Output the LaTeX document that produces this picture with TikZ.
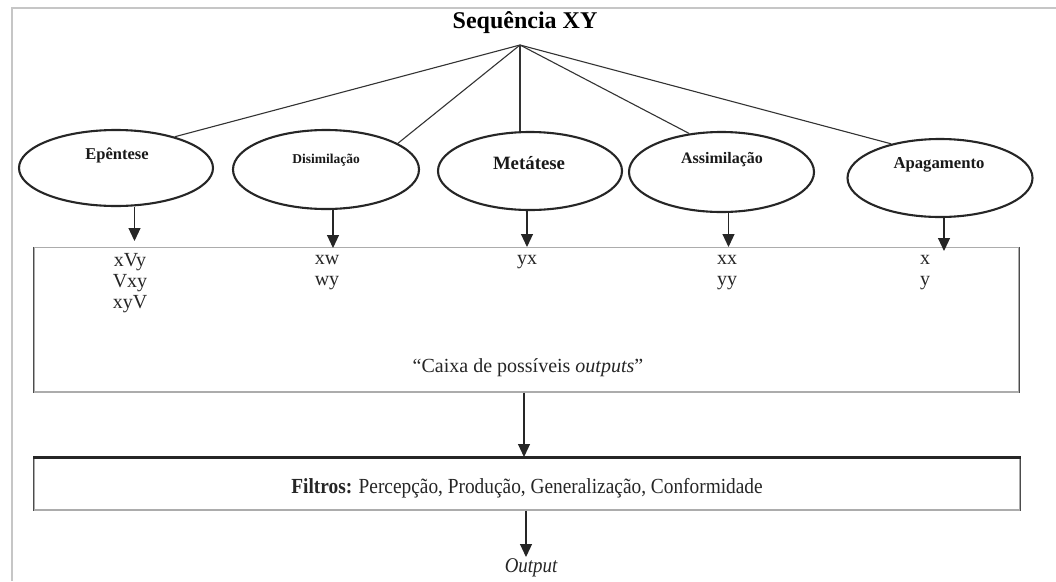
\documentclass[tikz,border=0pt]{standalone}
\usepackage{fontspec}
\setmainfont{Liberation Serif}
\newfontfamily\narrowserif{Liberation Serif}[FakeStretch=0.9]
\usetikzlibrary{shapes.geometric,arrows.meta}
\begin{document}
\begin{tikzpicture}[x=1pt,y=-1pt,
  ell/.style={draw=black!85, line width=2.1pt, ellipse, inner sep=0pt},
  etxt/.style={font=\bfseries\fontsize{#1}{#1}\selectfont, inner sep=0pt, text=black!90},
  link/.style={draw=black!80, line width=1.1pt},
  down/.style={draw=black!85, line width=1.1pt, -{Triangle[width=12pt,length=13pt]}},
  outtxt/.style={font=\fontsize{20}{21}\selectfont, align=center, inner sep=0pt, text=black!85},
  boxframe/.style={draw=gray!65, line width=1.2pt, rectangle, inner sep=0pt},
]
\useasboundingbox (0,0) rectangle (1056,581);
\fill[white] (0,0) rectangle (1056,581);
% page frame
\draw[gray!45, line width=2pt] (12,581) -- (12,8) -- (1056,8);

% title and apex
\node[font=\bfseries\fontsize{24}{24}\selectfont, inner sep=0pt] (title) at (525,23) {Sequência XY};
\coordinate (apex) at (520,45);

% processes
\node[ell, minimum width=194pt, minimum height=76pt] (epen) at (116,168) {};
\node[ell, minimum width=186pt, minimum height=79pt] (dis)  at (326,169.5) {};
\node[ell, minimum width=184pt, minimum height=78pt] (met)  at (530,171) {};
\node[ell, minimum width=185pt, minimum height=80pt] (assim) at (721.5,172) {};
\node[ell, minimum width=185pt, minimum height=78pt] (apag) at (940,178) {};

\node[etxt=16.5] (epenT) at (117,155) {Epêntese};
\node[etxt=13.5] (disT) at (326,160) {Disimilação};
\node[etxt=18.8] (metT) at (529,163) {Metátese};
\node[etxt=16] (assimT) at (722,160) {Assimilação};
\node[etxt=16.7] (apagT) at (939,165) {Apagamento};

% links from the sequence
\draw[link] (apex) -- (epen.28);
\draw[link] (apex) -- (dis.20);
\draw[link] (apex) -- (apex |- met.north);
\draw[link] (apex) -- (assim.130);
\draw[link] (apex) -- (apag.145);

% box of possible outputs
\node[boxframe, minimum width=985pt, minimum height=144.6pt] (caixa) at (526.4,319.7) {};
\draw[black!70, line width=1.2pt] (caixa.north west) -- (caixa.south west);
\draw[black!70, line width=1.2pt] (caixa.north east) -- (caixa.south east);

% arrows into the box
\coordinate (a1) at (134.5,241);
\coordinate (a2) at (333,248);
\coordinate (a3) at (527,247);
\coordinate (a4) at (728.5,247);
\coordinate (a5) at (944,251);
\draw[down] (epen.south -| a1) -- (a1);
\draw[down] (dis.south -| a2) -- (a2);
\draw[down] (met.south -| a3) -- (a3);
\draw[down] (assim.south -| a4) -- (a4);
\draw[down] (apag.south -| a5) -- (a5);

% candidate outputs
\node[outtxt] (o1) at (130,283) {xVy\\Vxy\\xyV};
\node[outtxt] (o2) at (327,272.5) {xw\\wy};
\node[outtxt] (o3) at (527,262) {yx};
\node[outtxt] (o4) at (727,272.5) {xx\\yy};
\node[outtxt] (o5) at (925,272.5) {x\\y};
\node[outtxt] (caixaT) at (528,368) {“Caixa de possíveis \textit{outputs}”};

% filters
\node[boxframe, minimum width=986pt, minimum height=52pt] (filt) at (527,484) {};
\draw[black!70, line width=1.2pt] (filt.north west) -- (filt.south west);
\draw[black!70, line width=1.2pt] (filt.north east) -- (filt.south east);
\draw[black!85, line width=2.2pt] (filt.north west) -- (filt.north east);
\node[outtxt, font=\narrowserif\fontsize{21.5}{22}\selectfont] (filtT) at (527,488) {\textbf{Filtros:} Percepção, Produção, Generalização, Conformidade};

\coordinate (f1) at (524,457);
\draw[down] (caixa.south -| f1) -- (f1);

\coordinate (f2) at (526,557);
\draw[down] (filt.south -| f2) -- (f2);
\node[outtxt, font=\narrowserif\itshape\fontsize{21}{21}\selectfont] (outT) at (531,568) {Output};
\end{tikzpicture}
\end{document}
